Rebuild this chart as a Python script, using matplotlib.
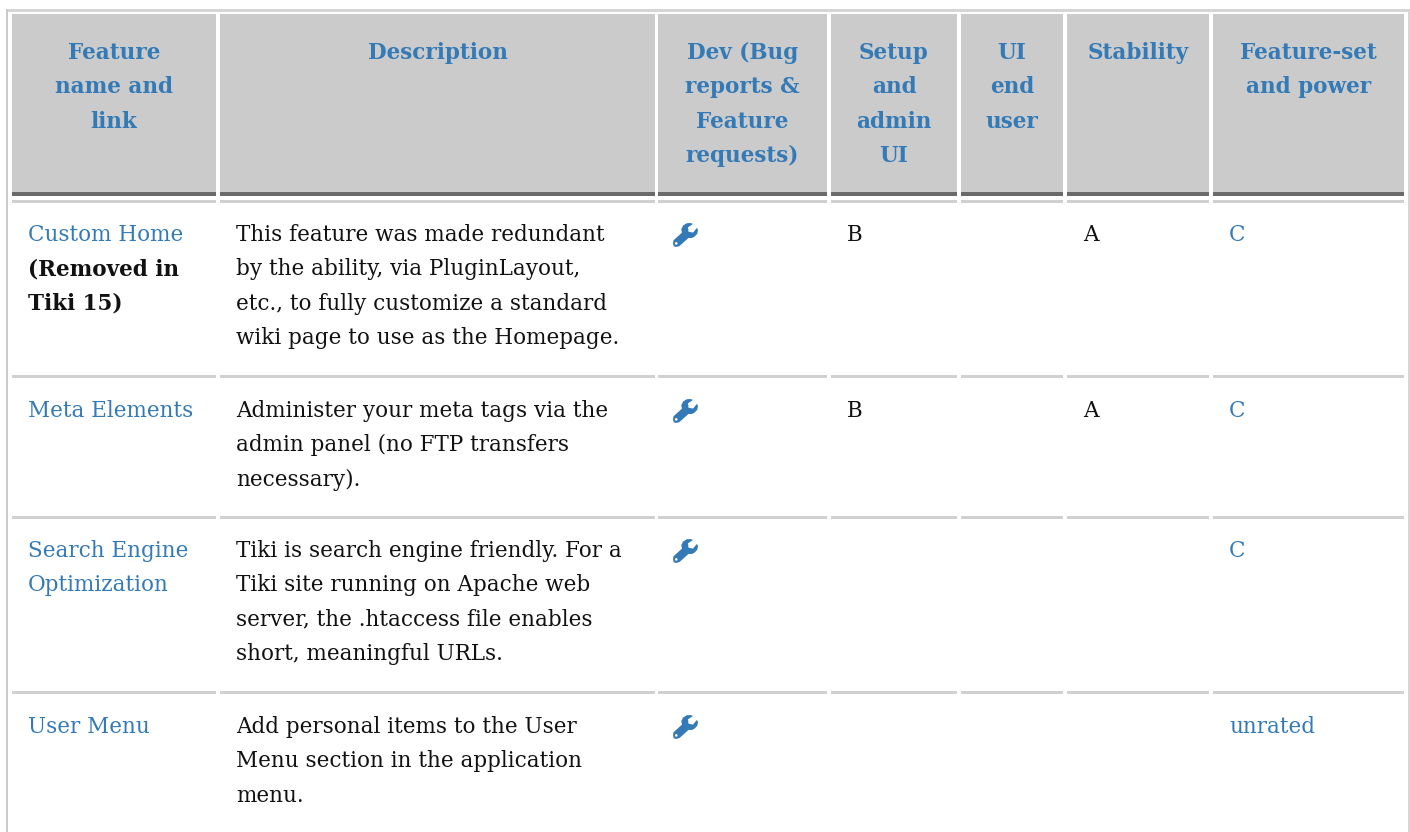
import matplotlib
matplotlib.use("Agg")
import matplotlib.pyplot as plt
from matplotlib.patches import Rectangle, Polygon, Circle

headers = [["Feature", "name and", "link"], ["Description"],
           ["Dev (Bug", "reports &", "Feature", "requests)"],
           ["Setup", "and", "admin", "UI"], ["UI", "end", "user"],
           ["Stability"], ["Feature-set", "and power"]]
features = [["Custom Home"], ["Meta Elements"],
            ["Search Engine", "Optimization"], ["User Menu"]]
feature_notes = [["(Removed in", "Tiki 15)"], [], [], []]
descriptions = [
    ["This feature was made redundant", "by the ability, via PluginLayout,",
     "etc., to fully customize a standard", "wiki page to use as the Homepage."],
    ["Administer your meta tags via the", "admin panel (no FTP transfers", "necessary)."],
    ["Tiki is search engine friendly. For a", "Tiki site running on Apache web",
     "server, the .htaccess file enables", "short, meaningful URLs."],
    ["Add personal items to the User", "Menu section in the application", "menu."],
]
setup = ["B", "B", "", ""]
ui_end = ["", "", "", ""]
stability = ["A", "A", "", ""]
power = ["C", "C", "C", "unrated"]

col_left = [12, 220, 658, 831, 961, 1067, 1213]
col_right = [216, 655, 827, 957, 1063, 1209, 1404]
row_sep = [376, 517, 692]
row_base = [241, 417, 557, 733]

BLUE = "#337ab7"
BLACK = "#111111"
GREY = "#cbcbcb"
DARK = "#6a6a6a"
FS = 15.5
LH = 34.45
SERIF = "DejaVu Serif"

fig = plt.figure(figsize=(14.10, 8.32), dpi=100, facecolor="white")
ax = fig.add_axes([0, 0, 1, 1])
ax.set_xlim(0, 1410)
ax.set_ylim(832, 0)
ax.axis("off")


def rect(x0, y0, x1, y1, c):
    ax.add_patch(Rectangle((x0, y0), x1 - x0, y1 - y0, fc=c, ec="none", lw=0))


def lines(x, y, items, color=BLACK, weight="normal", ha="left"):
    for i, s in enumerate(items):
        ax.text(x, y + i * LH, s, color=color, fontsize=FS, fontweight=weight,
                family=SERIF, ha=ha, va="baseline")


WRENCH = [(0.02, 0.72), (0.36, 0.40), (0.33, 0.26), (0.40, 0.11), (0.55, 0.01),
          (0.70, 0.0), (0.80, 0.04), (0.60, 0.18), (0.62, 0.36), (0.80, 0.40),
          (0.96, 0.20), (1.0, 0.30), (0.97, 0.45), (0.86, 0.57), (0.74, 0.63),
          (0.62, 0.62), (0.26, 0.96), (0.12, 1.0), (0.03, 0.97), (0.0, 0.84)]


def wrench(x, y, w=25, h=24):
    ax.add_patch(Polygon([(x + a * w, y + b * h) for a, b in WRENCH], closed=True,
                         fc=BLUE, ec="none", lw=0, joinstyle="round"))
    ax.add_patch(Circle((x + 0.13 * w, y + 0.85 * h), 1.3, fc="white", ec="none"))


# outer border
rect(6, 9, 1409, 11.5, "#d6d6d6")
rect(6, 9, 8, 832, GREY)
rect(1407.5, 9, 1409.5, 832, "#d6d6d6")

for j, (l, r) in enumerate(zip(col_left, col_right)):
    rect(l, 14, r, 192, GREY)
    rect(l, 192, r, 196, DARK)
    rect(l, 200, r, 202.5, "#d0d0d0")
    for y in row_sep:
        rect(l, y - 1, r, y + 1.5, "#d0d0d0")
    lines((l + r) / 2, 59, headers[j], color=BLUE, weight="bold", ha="center")

for i, base in enumerate(row_base):
    lines(28, base, features[i], color=BLUE)
    lines(28, base + LH, feature_notes[i], weight="bold")
    lines(236, base, descriptions[i])
    wrench(673, base - 18)
    lines(847, base, [setup[i]])
    lines(977, base, [ui_end[i]])
    lines(1083, base, [stability[i]])
    lines(1229, base, [power[i]], color=BLUE)

fig.savefig("out.png", dpi=100, facecolor="white")
